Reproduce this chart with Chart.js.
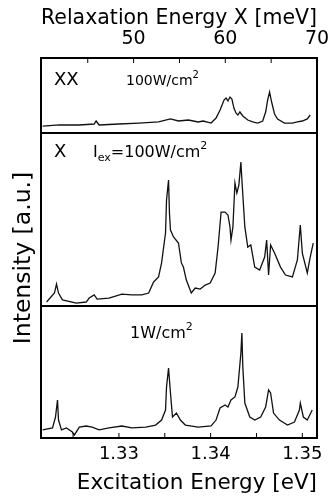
<!DOCTYPE html>
<html>
<head>
<meta charset="utf-8">
<script src="https://cdn.jsdelivr.net/npm/chart.js@4/dist/chart.umd.min.js"></script>
<style>
  html, body { margin: 0; padding: 0; background: #fff; }
  #wrap { position: relative; width: 328px; height: 503px; }
</style>
</head>
<body>
<div id="wrap"><canvas id="spectra"></canvas></div>
<script>
// XX, 100 W/cm2 (intensity in % of the panel height)
const xxEnergy = [1.32168, 1.32351, 1.32568, 1.32730, 1.32751, 1.32784, 1.33000, 1.33216, 1.33432, 1.33562,
  1.33649, 1.33757, 1.33865, 1.33919, 1.34005, 1.34059, 1.34103, 1.34146, 1.34168, 1.34189,
  1.34211, 1.34232, 1.34254, 1.34276, 1.34297, 1.34319, 1.34351, 1.34405, 1.34459, 1.34514,
  1.34568, 1.34600, 1.34622, 1.34643, 1.34665, 1.34697, 1.34730, 1.34805, 1.34892, 1.34946,
  1.35000, 1.35054, 1.35086];
const xxIntensity = [9.3, 10.7, 10.7, 12, 16, 10.7, 12, 13.3, 14.7, 18.7,
  16, 17.3, 14.7, 16, 13.3, 20, 30.7, 44, 46.7, 42.7,
  48, 45.3, 33.3, 26.7, 24, 28, 22.7, 17.3, 14.7, 13.3,
  16, 28, 44, 54.7, 41.3, 25.3, 18.7, 13.3, 13.3, 14.7,
  16, 18.7, 24];

// X, Iex = 100 W/cm2
const x100Energy = [1.32211, 1.32297, 1.32319, 1.32341, 1.32384, 1.32535, 1.32643, 1.32676, 1.32730, 1.32762,
  1.32892, 1.33032, 1.33141, 1.33249, 1.33324, 1.33378, 1.33432, 1.33465, 1.33508, 1.33519,
  1.33541, 1.33551, 1.33562, 1.33595, 1.33649, 1.33681, 1.33703, 1.33735, 1.33789, 1.33832,
  1.33886, 1.33941, 1.33995, 1.34049, 1.34081, 1.34114, 1.34157, 1.34189, 1.34211, 1.34222,
  1.34243, 1.34265, 1.34286, 1.34308, 1.34330, 1.34341, 1.34373, 1.34405, 1.34438, 1.34481,
  1.34535, 1.34589, 1.34611, 1.34632, 1.34654, 1.34697, 1.34762, 1.34816, 1.34892, 1.34946,
  1.34978, 1.35000, 1.35054, 1.35086, 1.35119];
const x100Intensity = [2.3, 7.5, 12.7, 7.5, 3.5, 1.7, 2.3, 4.6, 6.4, 4.0,
  4.6, 6.9, 6.4, 6.4, 7.5, 13.9, 16.8, 24.9, 42.2, 61.3,
  72.8, 53.8, 43.9, 39.9, 36.4, 24.9, 22.5, 15.0, 7.5, 10.4,
  9.8, 12.1, 13.3, 19.1, 34.1, 54.3, 54.3, 52.6, 45.7, 38.1,
  45.7, 71.1, 65.3, 69.9, 83.2, 72.8, 45.7, 34.1, 35.3, 22.5,
  20.8, 28.3, 38.1, 17.9, 35.3, 30.6, 22.5, 17.9, 16.8, 26.6,
  46.8, 30.6, 19.1, 28.3, 36.4];

// X, 1 W/cm2
const x1Energy = [1.32168, 1.32276, 1.32308, 1.32330, 1.32341, 1.32373, 1.32427, 1.32492, 1.32514, 1.32568,
  1.32643, 1.32708, 1.32784, 1.32892, 1.33032, 1.33141, 1.33292, 1.33400, 1.33465, 1.33508,
  1.33519, 1.33541, 1.33562, 1.33584, 1.33627, 1.33670, 1.33724, 1.33865, 1.34005, 1.34059,
  1.34103, 1.34157, 1.34189, 1.34222, 1.34265, 1.34297, 1.34330, 1.34341, 1.34351, 1.34373,
  1.34427, 1.34481, 1.34546, 1.34600, 1.34632, 1.34654, 1.34686, 1.34751, 1.34838, 1.34914,
  1.34968, 1.34978, 1.35011, 1.35054, 1.35108];
const x1Intensity = [6.1, 7.6, 15.9, 28.8, 13.6, 6.1, 7.6, 4.5, 2.3, 8.3,
  9.1, 8.3, 6.1, 7.6, 9.1, 7.6, 8.3, 9.8, 13.6, 21.2,
  38.6, 53.0, 34.1, 15.9, 18.9, 13.6, 9.8, 8.3, 9.1, 13.6,
  22.7, 25.0, 23.5, 28.8, 31.1, 38.6, 64.4, 79.5, 53.8, 26.5,
  15.9, 13.6, 15.9, 23.5, 36.4, 34.1, 18.9, 13.6, 9.8, 12.1,
  21.2, 26.5, 15.9, 13.6, 21.2];

// axes
const energyMin = 1.3215, energyMax = 1.3516;
const detectionEnergy = 1.2816; // relaxation energy = excitation - detection
const excitationTicks = [1.325, 1.33, 1.335, 1.34, 1.345, 1.35];
const excitationLabels = ['', '1.33', '', '1.34', '', '1.35'];
const relaxationTicks = [45, 50, 55, 60, 65, 70];
const relaxationLabels = ['', '50', '', '60', '', '70'];

const FONT = 'DejaVu Sans';

function toPoints(xs, ys) {
  return xs.map((x, i) => ({ x: x, y: ys[i] }));
}

function trace(xs, ys, axis) {
  return {
    data: toPoints(xs, ys),
    yAxisID: axis,
    borderColor: '#111',
    borderWidth: 1.3,
    pointRadius: 0,
    tension: 0,
    fill: false
  };
}

function panelAxis(weight) {
  return {
    type: 'linear',
    position: 'left',
    stack: 'panels',
    stackWeight: weight,
    min: 0,
    max: 100,
    grid: { display: false, drawTicks: false },
    border: { display: false },
    ticks: { display: false },
    afterFit: s => { s.width = 41; s.paddingTop = 0; s.paddingBottom = 0; }
  };
}

// text with sub/superscripts, parts = [text, size, dy]
function richText(ctx, x, y, parts) {
  parts.forEach(p => {
    ctx.font = p[1] + 'px "' + FONT + '"';
    ctx.fillText(p[0], x, y + (p[2] || 0));
    x += ctx.measureText(p[0]).width;
  });
}

const framePlugin = {
  id: 'frame',
  afterDatasetsDraw(chart) {
    const { ctx, chartArea: a, scales } = chart;
    ctx.save();
    ctx.strokeStyle = '#000';
    ctx.lineWidth = 2;
    [scales.yMid.top, scales.yBot.top].forEach(y => {
      ctx.beginPath(); ctx.moveTo(a.left, y); ctx.lineTo(a.right, y); ctx.stroke();
    });
    ctx.strokeRect(a.left, a.top, a.right - a.left, a.bottom - a.top);

    // inward tick marks
    ctx.lineWidth = 1;
    scales.x2.ticks.forEach(t => {
      const px = scales.x2.getPixelForValue(t.value);
      ctx.beginPath(); ctx.moveTo(px, a.top); ctx.lineTo(px, a.top + 5); ctx.stroke();
    });
    scales.x.ticks.forEach(t => {
      const px = scales.x.getPixelForValue(t.value);
      ctx.beginPath(); ctx.moveTo(px, a.bottom); ctx.lineTo(px, a.bottom - 5); ctx.stroke();
    });

    // panel labels
    ctx.fillStyle = '#000';
    ctx.textBaseline = 'alphabetic';
    ctx.textAlign = 'left';
    const l = a.left;
    const t1 = scales.yTop.top, t2 = scales.yMid.top, t3 = scales.yBot.top;
    richText(ctx, l + 13, t1 + 27, [['XX', 18]]);
    richText(ctx, l + 85, t1 + 27, [['100W/cm', 14], ['2', 10, -7]]);
    richText(ctx, l + 13, t2 + 24, [['X', 18]]);
    richText(ctx, l + 52, t2 + 24, [['I', 16], ['ex', 11, 4], ['=100W/cm', 16], ['2', 11, -8]]);
    richText(ctx, l + 89, t3 + 32, [['1W/cm', 16], ['2', 11, -8]]);

    // y axis title
    ctx.translate(30, 258);
    ctx.rotate(-Math.PI / 2);
    ctx.textAlign = 'center';
    ctx.font = '23.5px "' + FONT + '"';
    ctx.fillText('Intensity [a.u.]', 0, 0);
    ctx.restore();
  }
};

const ctx = document.getElementById('spectra').getContext('2d');

new Chart(ctx, {
  type: 'line',
  data: {
    datasets: [
      trace(xxEnergy, xxIntensity, 'yTop'),
      trace(x100Energy, x100Intensity, 'yMid'),
      trace(x1Energy, x1Intensity, 'yBot')
    ]
  },
  options: {
    responsive: true,
    maintainAspectRatio: false,
    animation: false,
    layout: { padding: { left: 0, right: 11, top: 0, bottom: 0 }, autoPadding: false },
    scales: {
      x: {
        type: 'linear',
        position: 'bottom',
        min: energyMin,
        max: energyMax,
        grid: { display: false, drawTicks: false },
        border: { display: false },
        afterBuildTicks: s => { s.ticks = excitationTicks.map(v => ({ value: v })); },
        ticks: {
          autoSkip: false,
          maxRotation: 0,
          padding: 6,
          color: '#000',
          font: { family: FONT, size: 18 },
          callback: (v, i) => excitationLabels[i]
        },
        title: {
          display: true,
          text: 'Excitation Energy [eV]',
          align: 'end',
          color: '#000',
          font: { family: FONT, size: 21.5 },
          padding: { top: 0, bottom: 7 }
        },
        afterFit: s => { s.height = 65; s.paddingLeft = 0; s.paddingRight = 0; }
      },
      x2: {
        type: 'linear',
        position: 'top',
        min: (energyMin - detectionEnergy) * 1000,
        max: (energyMax - detectionEnergy) * 1000,
        grid: { display: false, drawTicks: false },
        border: { display: false },
        afterBuildTicks: s => { s.ticks = relaxationTicks.map(v => ({ value: v })); },
        ticks: {
          autoSkip: false,
          maxRotation: 0,
          padding: 8,
          color: '#000',
          font: { family: FONT, size: 19 },
          callback: (v, i) => relaxationLabels[i]
        },
        title: {
          display: true,
          text: 'Relaxation Energy X [meV]',
          align: 'end',
          color: '#000',
          font: { family: FONT, size: 21.5 },
          padding: { top: 6, bottom: 0 }
        },
        afterFit: s => { s.height = 58; s.paddingLeft = 0; s.paddingRight = 0; }
      },
      yBot: panelAxis(132),
      yMid: panelAxis(173),
      yTop: panelAxis(75)
    },
    plugins: {
      legend: { display: false },
      tooltip: { enabled: false }
    }
  },
  plugins: [framePlugin]
});
</script>
</body>
</html>
